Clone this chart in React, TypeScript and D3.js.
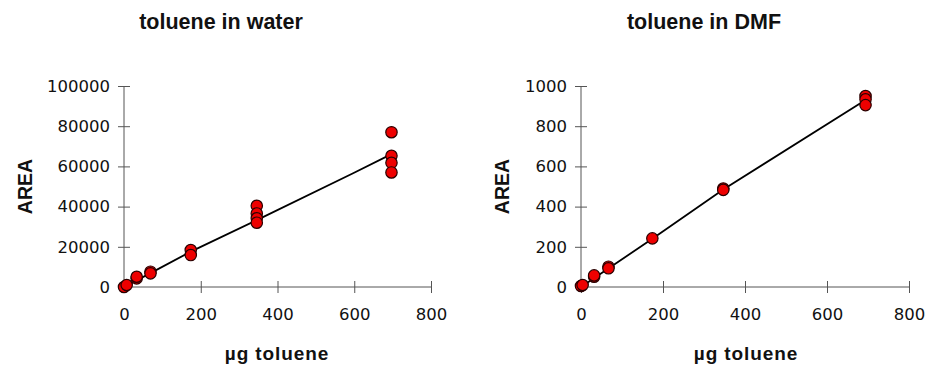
import React, { useEffect, useRef } from 'react';
import * as d3 from 'd3';

// toluene in water
const waterX = [0, 7, 33, 33, 69, 69, 174, 174, 346, 346, 346, 346, 697, 697, 697, 697];
const waterY = [0, 1000, 4300, 5100, 7600, 6800, 18400, 15900, 40400, 36600, 34200, 32000, 77000, 65300, 61800, 57000];
const waterLineX = [0, 69, 174, 346, 597, 697];
const waterLineY = [0, 6900, 17600, 33300, 56600, 66100];
const waterYTicks = [0, 20000, 40000, 60000, 80000, 100000];

// toluene in DMF
const dmfX = [0, 4, 32, 32, 67, 67, 174, 347, 347, 694, 694, 694];
const dmfY = [5, 10, 51, 58, 101, 93, 242, 490, 483, 950, 934, 905];
const dmfLineX = [0, 174, 347, 694];
const dmfLineY = [0, 240, 485, 930];
const dmfYTicks = [0, 200, 400, 600, 800, 1000];

const xTicks = [0, 200, 400, 600, 800];

const titleFont = '"Liberation Sans", Arial, sans-serif';
const tickFont = '"DejaVu Sans", sans-serif';

const drawPanel = (svg, opts) => {
	const { left, right, top, bottom, xs, ys, lx, ly, yTicks, yMax, title, titleX, yLabelX, xLabelX } = opts;
	const g = svg.append('g');

	const x = d3.scaleLinear().domain([0, 800]).range([left, right]);
	const y = d3.scaleLinear().domain([0, yMax]).range([bottom, top]);

	// y axis
	const yAxis = d3.axisLeft(y).tickValues(yTicks).tickFormat(d3.format('d')).tickSize(6).tickPadding(8);
	const ya = g.append('g').attr('transform', `translate(${left},0)`).call(yAxis);
	ya.select('.domain').attr('stroke', '#555').attr('d', `M0,${bottom}V${top}`);
	ya.selectAll('.tick line').attr('x1', 6).attr('stroke', '#555');
	ya.selectAll('.tick text').attr('font-family', tickFont).attr('font-size', 16.5).attr('fill', '#111');

	// x axis
	const xAxis = d3.axisBottom(x).tickValues(xTicks).tickFormat(d3.format('d')).tickSize(6).tickPadding(15);
	const xa = g.append('g').attr('transform', `translate(0,${bottom})`).call(xAxis);
	xa.select('.domain').attr('stroke', '#555').attr('d', `M${left},0H${right}`);
	xa.selectAll('.tick line').attr('y1', -6).attr('stroke', '#555');
	xa.selectAll('.tick text').attr('font-family', tickFont).attr('font-size', 16.5).attr('fill', '#111');

	// regression line
	const line = d3.line().x(d => x(d[0])).y(d => y(d[1]));
	g.append('path')
		.datum(lx.map((v, i) => [v, ly[i]]))
		.attr('d', line)
		.attr('fill', 'none')
		.attr('stroke', '#000')
		.attr('stroke-width', 1.8);

	// points
	g.selectAll('.pt')
		.data(xs.map((v, i) => [v, ys[i]]))
		.enter()
		.append('circle')
		.attr('cx', d => x(d[0]))
		.attr('cy', d => y(d[1]))
		.attr('r', 5.7)
		.attr('fill', '#ee0000')
		.attr('stroke', '#2a0000')
		.attr('stroke-width', 1.2);

	// title
	g.append('text')
		.text(title)
		.attr('x', titleX)
		.attr('y', 29)
		.attr('text-anchor', 'middle')
		.attr('font-family', titleFont)
		.attr('font-weight', 'bold')
		.attr('font-size', 21.5)
		.attr('fill', '#111');

	// x title
	g.append('text')
		.text('µg toluene')
		.attr('x', xLabelX)
		.attr('y', 360)
		.attr('text-anchor', 'middle')
		.attr('font-family', titleFont)
		.attr('font-weight', 'bold')
		.attr('font-size', 19)
		.attr('letter-spacing', 0.9)
		.attr('fill', '#111');

	// y title
	g.append('text')
		.text('AREA')
		.attr('transform', `translate(${yLabelX},${(top + bottom) / 2}) rotate(-90)`)
		.attr('text-anchor', 'middle')
		.attr('font-family', titleFont)
		.attr('font-weight', 'bold')
		.attr('font-size', 19.5)
		.attr('fill', '#111');
};

const App = () => {
	const ref = useRef(null);

	useEffect(() => {
		const svg = d3.select(ref.current);
		svg.selectAll('*').remove();

		drawPanel(svg, {
			left: 124, right: 431, top: 86, bottom: 287,
			xs: waterX, ys: waterY, lx: waterLineX, ly: waterLineY,
			yTicks: waterYTicks, yMax: 100000,
			title: 'toluene in water', titleX: 221, yLabelX: 32, xLabelX: 277
		});

		drawPanel(svg, {
			left: 581, right: 909, top: 86, bottom: 287,
			xs: dmfX, ys: dmfY, lx: dmfLineX, ly: dmfLineY,
			yTicks: dmfYTicks, yMax: 1000,
			title: 'toluene in DMF', titleX: 704, yLabelX: 509, xLabelX: 746
		});
	}, []);

	return (
		<svg ref={ref} width={927} height={365} style={{ position: 'absolute', left: 0, top: 0, background: '#fff' }} />
	);
};

export default App;
